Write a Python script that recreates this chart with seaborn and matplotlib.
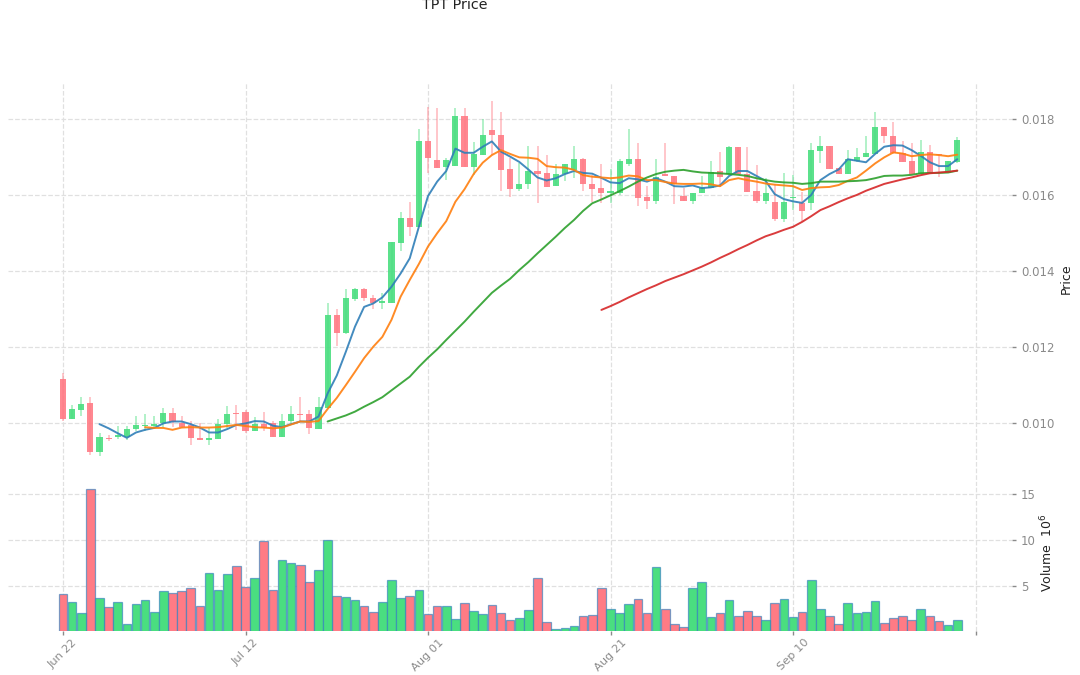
import numpy as np
import pandas as pd
import matplotlib
matplotlib.use("Agg")
import matplotlib.pyplot as plt
import seaborn as sns

tick_positions = [0, 20, 40, 60, 80, 100]
tick_labels = ["Jun 22", "Jul 12", "Aug 01", "Aug 21", "Sep 10", ""]

opens = [.01116,.01010,.01034,.01052,.00924,.00961,.00962,.00962,.00983,.00991,.00993,.00999,.01026,.01001,.00995,.00960,.00955,.00957,.00997,.01027,
         .01028,.00980,.00997,.00999,.00964,.01004,.01025,.01023,.00984,.01040,.01284,.01236,.01327,.01353,.01329,.01315,.01317,.01475,.01541,.01517,
         .01743,.01694,.01675,.01677,.01809,.01675,.01706,.01772,.01760,.01668,.01616,.01630,.01665,.01658,.01624,.01655,.01667,.01695,.01631,.01620,
         .01607,.01605,.01682,.01695,.01596,.01586,.01656,.01651,.01599,.01586,.01607,.01618,.01663,.01656,.01726,.01656,.01611,.01584,.01583,.01537,
         .01592,.01581,.01581,.01717,.01730,.01671,.01656,.01691,.01700,.01710,.01779,.01756,.01712,.01690,.01656,.01713,.01708,.01660,.01689]
closes = [.01010,.01036,.01051,.00924,.00962,.00959,.00968,.00984,.00994,.00995,.00998,.01026,.01002,.00990,.00960,.00955,.00960,.00997,.01024,.01025,
          .00980,.00997,.00986,.00964,.01005,.01025,.01022,.00986,.01041,.01284,.01238,.01329,.01353,.01329,.01315,.01322,.01478,.01539,.01516,.01743,
          .01698,.01673,.01693,.01809,.01674,.01708,.01758,.01759,.01667,.01617,.01631,.01663,.01656,.01622,.01656,.01682,.01696,.01630,.01616,.01607,
          .01611,.01690,.01695,.01594,.01586,.01647,.01651,.01630,.01586,.01605,.01618,.01662,.01649,.01728,.01656,.01610,.01584,.01607,.01537,.01583,
          .01596,.01559,.01719,.01730,.01669,.01656,.01695,.01702,.01712,.01779,.01756,.01712,.01688,.01656,.01715,.01656,.01705,.01690,.01746]
highs = [.01131,.01047,.01068,.01068,.00973,.00968,.00992,.00992,.01018,.01024,.01018,.01040,.01040,.01018,.01006,.01000,.00986,.01010,.01046,.01047,
         .01034,.01017,.01030,.01004,.01023,.01045,.01068,.01034,.01069,.01315,.01300,.01353,.01357,.01357,.01336,.01342,.01478,.01556,.01583,.01776,
         .01833,.01829,.01699,.01829,.01829,.01741,.01802,.01849,.01820,.01697,.01686,.01730,.01730,.01705,.01682,.01682,.01730,.01699,.01653,.01682,
         .01668,.01696,.01776,.01739,.01624,.01695,.01737,.01651,.01620,.01605,.01651,.01690,.01715,.01730,.01728,.01728,.01680,.01645,.01631,.01658,
         .01653,.01609,.01737,.01756,.01730,.01671,.01719,.01724,.01756,.01820,.01779,.01794,.01744,.01737,.01746,.01732,.01708,.01690,.01754]
lows = [.01006,.01010,.01018,.00915,.00913,.00953,.00959,.00955,.00980,.00980,.00986,.00990,.00990,.00986,.00943,.00955,.00941,.00957,.00986,.00982,
        .00973,.00980,.00980,.00962,.00964,.00999,.01003,.00971,.00984,.01040,.01203,.01234,.01322,.01322,.01301,.01301,.01317,.01454,.01494,.01517,
        .01658,.01673,.01640,.01677,.01674,.01653,.01706,.01706,.01612,.01596,.01611,.01617,.01581,.01622,.01624,.01638,.01645,.01612,.01583,.01581,
        .01581,.01601,.01677,.01572,.01563,.01577,.01651,.01577,.01586,.01577,.01605,.01618,.01621,.01656,.01656,.01610,.01580,.01577,.01533,.01530,
        .01561,.01533,.01561,.01684,.01669,.01656,.01656,.01688,.01700,.01710,.01737,.01710,.01688,.01656,.01656,.01656,.01649,.01660,.01686]
volumes = [4.17,3.23,2.08,15.5,3.66,2.73,3.23,0.88,3.09,3.48,2.22,4.46,4.24,4.42,4.75,2.87,6.37,4.60,6.26,7.13,
           4.89,5.90,9.91,4.60,7.82,7.53,7.31,5.43,6.77,10.0,3.92,3.84,3.48,2.87,2.18,3.30,5.69,3.74,3.88,4.57,
           1.97,2.87,2.80,1.46,3.16,2.29,1.93,2.98,2.04,1.32,1.53,2.36,5.87,1.10,0.38,0.45,0.60,1.75,1.82,4.75,
           2.47,2.11,3.05,3.56,2.08,7.09,2.55,0.92,0.52,4.78,5.43,1.61,2.04,3.48,1.75,2.29,1.75,1.28,3.16,3.63,
           1.64,2.15,5.61,2.55,1.75,0.85,3.16,2.08,2.22,3.41,1.00,1.50,1.75,1.35,2.55,1.75,1.21,0.78,1.32]

ma5_start = 4
ma5 = [.00997,.00986,.00973,.00961,.00975,.00982,.00987,.00999,.01004,.01004,.00997,.00988,.00975,.00975,.00984,.00995,.00999,.01005,.01004,.00993,
       .00989,.00997,.01004,.01004,.01017,.01078,.01125,.01188,.01254,.01306,.01315,.01331,.01359,.01394,.01434,.01517,.01598,.01636,.01664,.01723,
       .01712,.01712,.01728,.01742,.01715,.01702,.01688,.01668,.01647,.01639,.01645,.01656,.01664,.01659,.01657,.01646,.01634,.01632,.01645,.01642,
       .01636,.01645,.01636,.01624,.01623,.01626,.01619,.01621,.01626,.01651,.01664,.01664,.01651,.01638,.01603,.01590,.01584,.01580,.01601,.01640,
       .01656,.01668,.01695,.01691,.01687,.01709,.01728,.01732,.01731,.01719,.01704,.01687,.01677,.01677,.01695]
ma10_start = 9
ma10 = [.00989,.00987,.00987,.00982,.00988,.00989,.00988,.00988,.00989,.00992,.00995,.00992,.00989,.00988,.00986,.00988,.00996,.01004,.01003,.01005,
        .01037,.01066,.01100,.01135,.01171,.01201,.01227,.01272,.01333,.01377,.01419,.01465,.01500,.01532,.01583,.01616,.01656,.01686,.01706,.01719,
        .01709,.01700,.01699,.01696,.01677,.01674,.01673,.01667,.01653,.01649,.01647,.01645,.01647,.01652,.01650,.01640,.01640,.01635,.01631,.01630,
        .01630,.01631,.01629,.01624,.01640,.01645,.01640,.01636,.01631,.01628,.01626,.01624,.01614,.01619,.01621,.01622,.01627,.01638,.01647,.01665,
        .01684,.01700,.01713,.01710,.01703,.01706,.01708,.01706,.01703,.01707]
ma30_start = 29
ma30 = [.01004,.01012,.01020,.01030,.01043,.01055,.01068,.01086,.01104,.01122,.01148,.01172,.01194,.01219,.01243,.01267,.01293,.01318,.01343,.01362,
        .01380,.01403,.01424,.01447,.01469,.01491,.01514,.01535,.01559,.01579,.01589,.01600,.01611,.01623,.01636,.01647,.01656,.01662,.01665,.01667,
        .01663,.01660,.01659,.01658,.01656,.01654,.01651,.01645,.01640,.01636,.01634,.01633,.01630,.01632,.01636,.01636,.01636,.01637,.01638,.01640,
        .01645,.01651,.01652,.01652,.01654,.01658,.01659,.01659,.01660,.01665]
ma60_start = 59
ma60 = [.01298,.01308,.01319,.01331,.01342,.01353,.01363,.01374,.01383,.01392,.01402,.01412,.01423,.01435,.01446,.01458,.01469,.01481,.01492,.01500,
        .01509,.01517,.01530,.01545,.01561,.01571,.01582,.01592,.01601,.01612,.01621,.01630,.01636,.01642,.01647,.01653,.01658,.01660,.01662,.01665]

sns.set_theme(style="white")
plt.rcParams["font.family"] = ["DejaVu Sans"]

W, H = 1080, 675
LEFT, RIGHT, TOP, MID, BOTTOM = 8, 1012, 82, 486, 631
fig = plt.figure(figsize=(W / 100, H / 100), dpi=100)
ax = fig.add_axes([LEFT / W, 1 - MID / H, (RIGHT - LEFT) / W, (MID - TOP) / H])
axv = fig.add_axes([LEFT / W, 1 - BOTTOM / H, (RIGHT - LEFT) / W, (BOTTOM - MID) / H], sharex=ax)

df = pd.DataFrame({"i": np.arange(len(closes)), "open": opens, "close": closes, "high": highs, "low": lows, "vol": volumes})
df["up"] = df["close"] >= df["open"]
RED, GREEN = "#ff7b85", "#4ade80"
colors = df["up"].map({True: GREEN, False: RED})

ax.vlines(df["i"], df["low"], df["high"], colors=colors, linewidth=1.2, alpha=0.5, zorder=2)
ax.bar(df["i"], (df["close"] - df["open"]).abs().clip(lower=0.00002), bottom=df[["open", "close"]].min(axis=1),
       width=0.66, color=colors, alpha=0.9, linewidth=0, zorder=3)

for start, vals, col in [(ma5_start, ma5, "#2f7fb8"), (ma10_start, ma10, "#ff7f0e"),
                         (ma30_start, ma30, "#2ca02c"), (ma60_start, ma60, "#d62728")]:
    sns.lineplot(x=np.arange(start, start + len(vals)), y=vals, ax=ax, color=col, linewidth=1.4, alpha=0.9,
                 errorbar=None, zorder=4)

sns.barplot(data=df, x="i", y="vol", hue="up", palette={True: GREEN, False: RED}, native_scale=True, dodge=False,
            width=0.95, ax=axv, legend=False, saturation=1, edgecolor=(0.2, 0.5, 0.75, 0.65), linewidth=0.9, zorder=3)

x0 = (LEFT - 63) / 9.125
x1 = (RIGHT - 63) / 9.125
price_at = lambda y: 0.010 + (423 - y) / 37950
vol_at = lambda y: 5 + (586 - y) / 9.2
ax.set_ylim(price_at(MID), price_at(TOP))
axv.set_ylim(vol_at(BOTTOM), vol_at(MID))
axv.set_xlim(x0, x1)

for a in (ax, axv):
    a.set_facecolor("white")
    for s in a.spines.values():
        s.set_visible(False)
    a.grid(True, color="#e0e0e0", linestyle="--", linewidth=0.9, zorder=0)
    a.set_axisbelow(True)
    a.yaxis.tick_right()
    a.set_xlabel("")
    a.set_ylabel("")
    a.set_xticks(tick_positions)
    a.tick_params(axis="y", colors="#8a8a8a", labelsize=8.5, length=3, width=1, pad=3.5, right=True, left=False)

ax.set_yticks([0.010, 0.012, 0.014, 0.016, 0.018])
ax.set_yticklabels(["0.010", "0.012", "0.014", "0.016", "0.018"])
ax.tick_params(axis="x", length=0, labelbottom=False)
axv.set_yticks([5, 10, 15])
axv.set_yticklabels(["5", "10", "15"])
axv.set_xticklabels(tick_labels, rotation=45, ha="center")
axv.tick_params(axis="x", colors="#8a8a8a", labelsize=8.2, length=3, width=1, bottom=True, pad=1.5)

fig.text(455 / W, 1 - 9 / H, "TPT Price", ha="center", va="baseline", fontsize=10.3, color="#222222")
fig.text(1066 / W, 1 - 279 / H, "Price", rotation=90, ha="center", va="center", fontsize=9, color="#222222")
fig.text(1047 / W, 1 - 553 / H, "Volume  $10^{6}$", rotation=90, ha="center", va="center", fontsize=9, color="#222222")

fig.savefig("out.png", dpi=100, facecolor="white")
